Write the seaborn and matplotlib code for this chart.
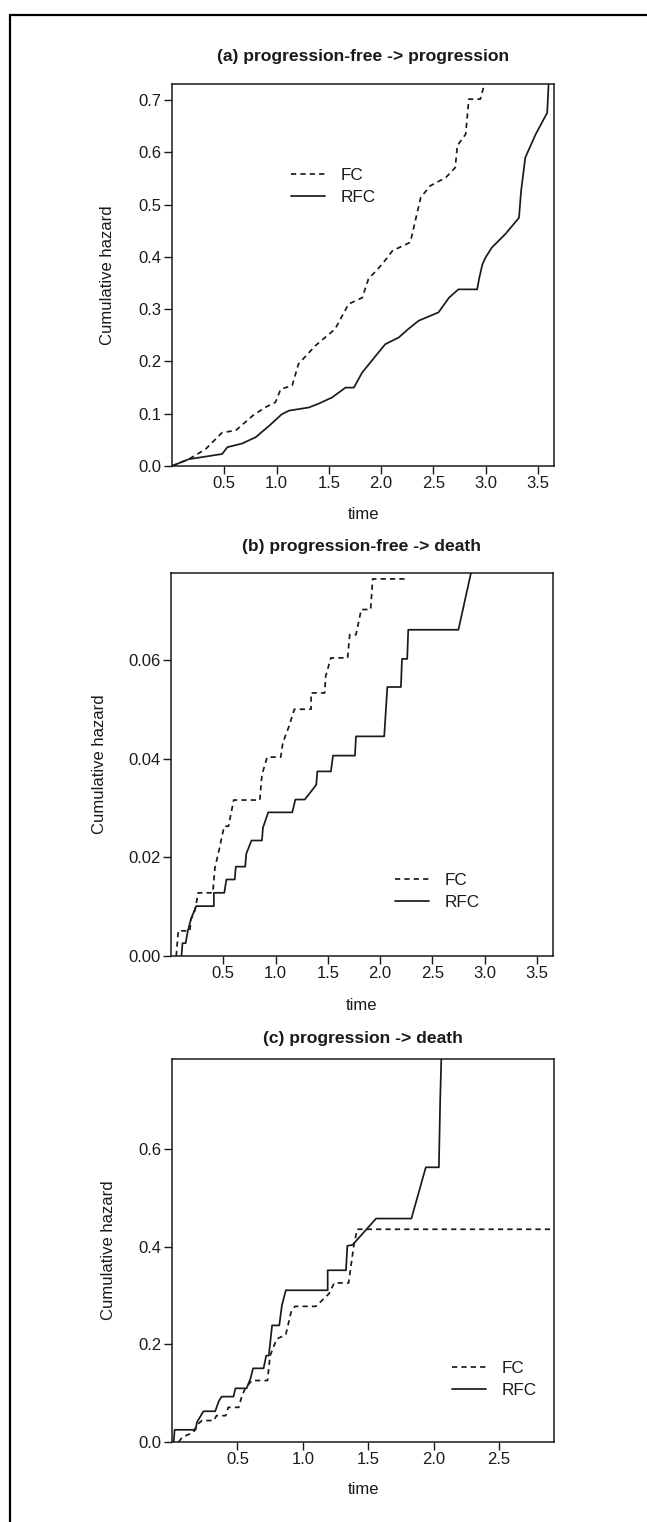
import numpy as np
import pandas as pd
import matplotlib
matplotlib.use("Agg")
import matplotlib.pyplot as plt
import seaborn as sns
from matplotlib.lines import Line2D

# ---------------- data ----------------
groups = ["FC", "RFC"]

# (a) progression-free -> progression
a_fc_time = [0.00, 0.16, 0.32, 0.48, 0.61, 0.77, 0.89, 0.99, 1.04, 1.15, 1.21, 1.37, 1.56, 1.69,
             1.82, 1.88, 2.01, 2.11, 2.28, 2.38, 2.47, 2.62, 2.71, 2.73, 2.81, 2.84, 2.95, 3.03]
a_fc_haz = [0.000, 0.013, 0.032, 0.064, 0.068, 0.096, 0.112, 0.122, 0.147, 0.154, 0.195, 0.230, 0.262, 0.310,
            0.322, 0.358, 0.386, 0.412, 0.428, 0.514, 0.536, 0.552, 0.571, 0.613, 0.635, 0.702, 0.702, 0.760]
a_rfc_time = [0.00, 0.16, 0.48, 0.53, 0.67, 0.80, 0.93, 1.05, 1.12, 1.31, 1.40, 1.53, 1.66, 1.74,
              1.82, 1.95, 2.04, 2.17, 2.26, 2.36, 2.55, 2.65, 2.74, 2.92, 2.94, 2.97, 3.00, 3.06,
              3.19, 3.32, 3.34, 3.38, 3.48, 3.59, 3.61]
a_rfc_haz = [0.000, 0.013, 0.023, 0.036, 0.043, 0.055, 0.077, 0.099, 0.106, 0.112, 0.119, 0.131, 0.150, 0.150,
             0.179, 0.211, 0.233, 0.246, 0.262, 0.278, 0.294, 0.322, 0.338, 0.338, 0.360, 0.386, 0.399, 0.418,
             0.444, 0.475, 0.526, 0.590, 0.635, 0.676, 0.760]

# (b) progression-free -> death
b_fc_time = [0.05, 0.07, 0.18, 0.19, 0.23, 0.26, 0.40, 0.42, 0.46, 0.49, 0.51, 0.55, 0.60, 0.85,
             0.87, 0.92, 1.05, 1.07, 1.13, 1.18, 1.34, 1.34, 1.47, 1.48, 1.53, 1.69, 1.71, 1.77,
             1.82, 1.91, 1.93, 2.26]
b_fc_haz = [0.0, 0.0051, 0.0051, 0.0074, 0.0093, 0.0128, 0.0128, 0.0178, 0.0215, 0.0245, 0.0263, 0.0263,
            0.0316, 0.0316, 0.0367, 0.0403, 0.0403, 0.0432, 0.0466, 0.0500, 0.0500, 0.0533, 0.0533, 0.0567,
            0.0604, 0.0604, 0.0651, 0.0651, 0.0702, 0.0702, 0.0764, 0.0764]
b_rfc_time = [0.10, 0.11, 0.14, 0.16, 0.19, 0.24, 0.41, 0.41, 0.51, 0.53, 0.61, 0.62, 0.71, 0.72,
              0.77, 0.87, 0.88, 0.93, 1.16, 1.19, 1.28, 1.39, 1.40, 1.53, 1.55, 1.76, 1.77, 2.04,
              2.07, 2.20, 2.21, 2.26, 2.27, 2.75, 2.87, 2.90]
b_rfc_haz = [0.0, 0.0026, 0.0026, 0.0050, 0.0074, 0.0101, 0.0101, 0.0128, 0.0128, 0.0155, 0.0155, 0.0181,
             0.0181, 0.0207, 0.0234, 0.0234, 0.0260, 0.0291, 0.0291, 0.0317, 0.0317, 0.0347, 0.0374, 0.0374,
             0.0406, 0.0406, 0.0445, 0.0445, 0.0545, 0.0545, 0.0602, 0.0602, 0.0661, 0.0661, 0.0776, 0.0800]

# (c) progression -> death
c_fc_time = [0.05, 0.08, 0.165, 0.19, 0.23, 0.32, 0.34, 0.41, 0.43, 0.51, 0.535, 0.56, 0.61, 0.73,
             0.75, 0.80, 0.87, 0.91, 0.94, 1.10, 1.20, 1.24, 1.35, 1.39, 1.415, 2.92]
c_fc_haz = [0.0, 0.010, 0.020, 0.035, 0.044, 0.044, 0.054, 0.054, 0.071, 0.071, 0.095, 0.110, 0.126, 0.126,
            0.177, 0.211, 0.220, 0.266, 0.278, 0.278, 0.304, 0.326, 0.326, 0.403, 0.436, 0.436]
c_rfc_time = [0.013, 0.02, 0.18, 0.19, 0.24, 0.33, 0.36, 0.38, 0.47, 0.485, 0.57, 0.60, 0.62, 0.70,
              0.72, 0.74, 0.765, 0.82, 0.84, 0.87, 1.19, 1.19, 1.33, 1.34, 1.38, 1.56, 1.83, 1.94,
              2.04, 2.05, 2.06]
c_rfc_haz = [0.0, 0.025, 0.025, 0.040, 0.063, 0.063, 0.085, 0.093, 0.093, 0.110, 0.110, 0.130, 0.151, 0.151,
             0.177, 0.177, 0.239, 0.239, 0.280, 0.311, 0.311, 0.352, 0.352, 0.402, 0.404, 0.458, 0.458, 0.563,
             0.563, 0.700, 0.800]

titles = ["(a) progression-free -> progression", "(b) progression-free -> death", "(c) progression -> death"]
x_ticks = [[0.5, 1.0, 1.5, 2.0, 2.5, 3.0, 3.5], [0.5, 1.0, 1.5, 2.0, 2.5, 3.0, 3.5], [0.5, 1.0, 1.5, 2.0, 2.5]]
y_ticks = [[0.0, 0.1, 0.2, 0.3, 0.4, 0.5, 0.6, 0.7], [0.00, 0.02, 0.04, 0.06], [0.0, 0.2, 0.4, 0.6]]
y_fmt = ["{:.1f}", "{:.2f}", "{:.1f}"]
x_lims = [(0, 3.655), (0, 3.655), (0, 2.92)]
y_lims = [(0, 0.731), (0, 0.0776), (0, 0.785)]

panels = [
    (a_fc_time, a_fc_haz, a_rfc_time, a_rfc_haz),
    (b_fc_time, b_fc_haz, b_rfc_time, b_rfc_haz),
    (c_fc_time, c_fc_haz, c_rfc_time, c_rfc_haz),
]

# ---------------- style ----------------
sns.set_theme(style="white")
plt.rcParams["font.family"] = ["Liberation Sans", "DejaVu Sans"]
plt.rcParams["axes.linewidth"] = 1.1

W, H = 647, 1522
fig = plt.figure(figsize=(W / 100, H / 100), dpi=100)
fig.patch.set_facecolor("white")

# axes boxes in pixels: left, right, top, bottom
boxes = [(172, 554, 84, 466), (171, 553, 573, 956), (172, 554, 1059, 1442)]
legend_anchor = [(0.3115, 0.780), (0.586, 0.216), (0.733, 0.211)]
ylabel_x = [-0.170, -0.188, -0.165]
xlabel_y = [-0.128, -0.128, -0.125]
title_y = [1.0707, 1.0687, 1.053]

ink = "#1a1a1a"
FS = 12
for i, (ft, fh, rt, rh) in enumerate(panels):
    l, r, t, b = boxes[i]
    ax = fig.add_axes([l / W, 1 - b / H, (r - l) / W, (b - t) / H])
    df = pd.concat([
        pd.DataFrame({"time": ft, "hazard": fh, "group": groups[0]}),
        pd.DataFrame({"time": rt, "hazard": rh, "group": groups[1]}),
    ], ignore_index=True)
    sns.lineplot(data=df, x="time", y="hazard", style="group", style_order=groups,
                 dashes={"FC": (3.0, 2.4), "RFC": ""}, estimator=None, sort=False,
                 color=ink, linewidth=1.25, legend=False, ax=ax)
    ax.set_xlim(*x_lims[i])
    ax.set_ylim(*y_lims[i])
    ax.set_xticks(x_ticks[i])
    ax.set_xticklabels([f"{v:.1f}" for v in x_ticks[i]])
    ax.set_yticks(y_ticks[i])
    ax.set_yticklabels([y_fmt[i].format(v) for v in y_ticks[i]])
    ax.tick_params(axis="both", direction="out", length=5.5, width=1.0, color=ink,
                   labelsize=FS, labelcolor=ink, pad=2.0, bottom=True, left=True)
    for s in ax.spines.values():
        s.set_visible(True)
        s.set_color(ink)
        s.set_linewidth(1.1)
    ax.set_xlabel("time", fontsize=FS, color=ink)
    ax.xaxis.label.set_va("center")
    ax.xaxis.set_label_coords(0.5, xlabel_y[i])
    ax.set_ylabel("Cumulative hazard", fontsize=FS, color=ink)
    ax.yaxis.label.set_va("center")
    ax.yaxis.set_label_coords(ylabel_x[i], 0.5)
    ax.text(0.5, title_y[i], titles[i], transform=ax.transAxes, ha="center", va="center",
            fontsize=12.6, fontweight="bold", color=ink)
    ax.legend(ax.lines[:2], groups, frameon=False, loc="upper left",
              bbox_to_anchor=legend_anchor[i], borderpad=0, borderaxespad=0,
              handlelength=2.0, handletextpad=0.9, labelspacing=0.4,
              prop={"size": 12.3}, labelcolor=ink)

# outer frame (left and top edges visible in the reference)
fig.add_artist(Line2D([10 / W, 10 / W], [0, 1 - 15 / H], transform=fig.transFigure, color="black", lw=1.6))
fig.add_artist(Line2D([10 / W, 1], [1 - 15 / H, 1 - 15 / H], transform=fig.transFigure, color="black", lw=1.6))

fig.savefig("out.png", dpi=100, facecolor="white")
